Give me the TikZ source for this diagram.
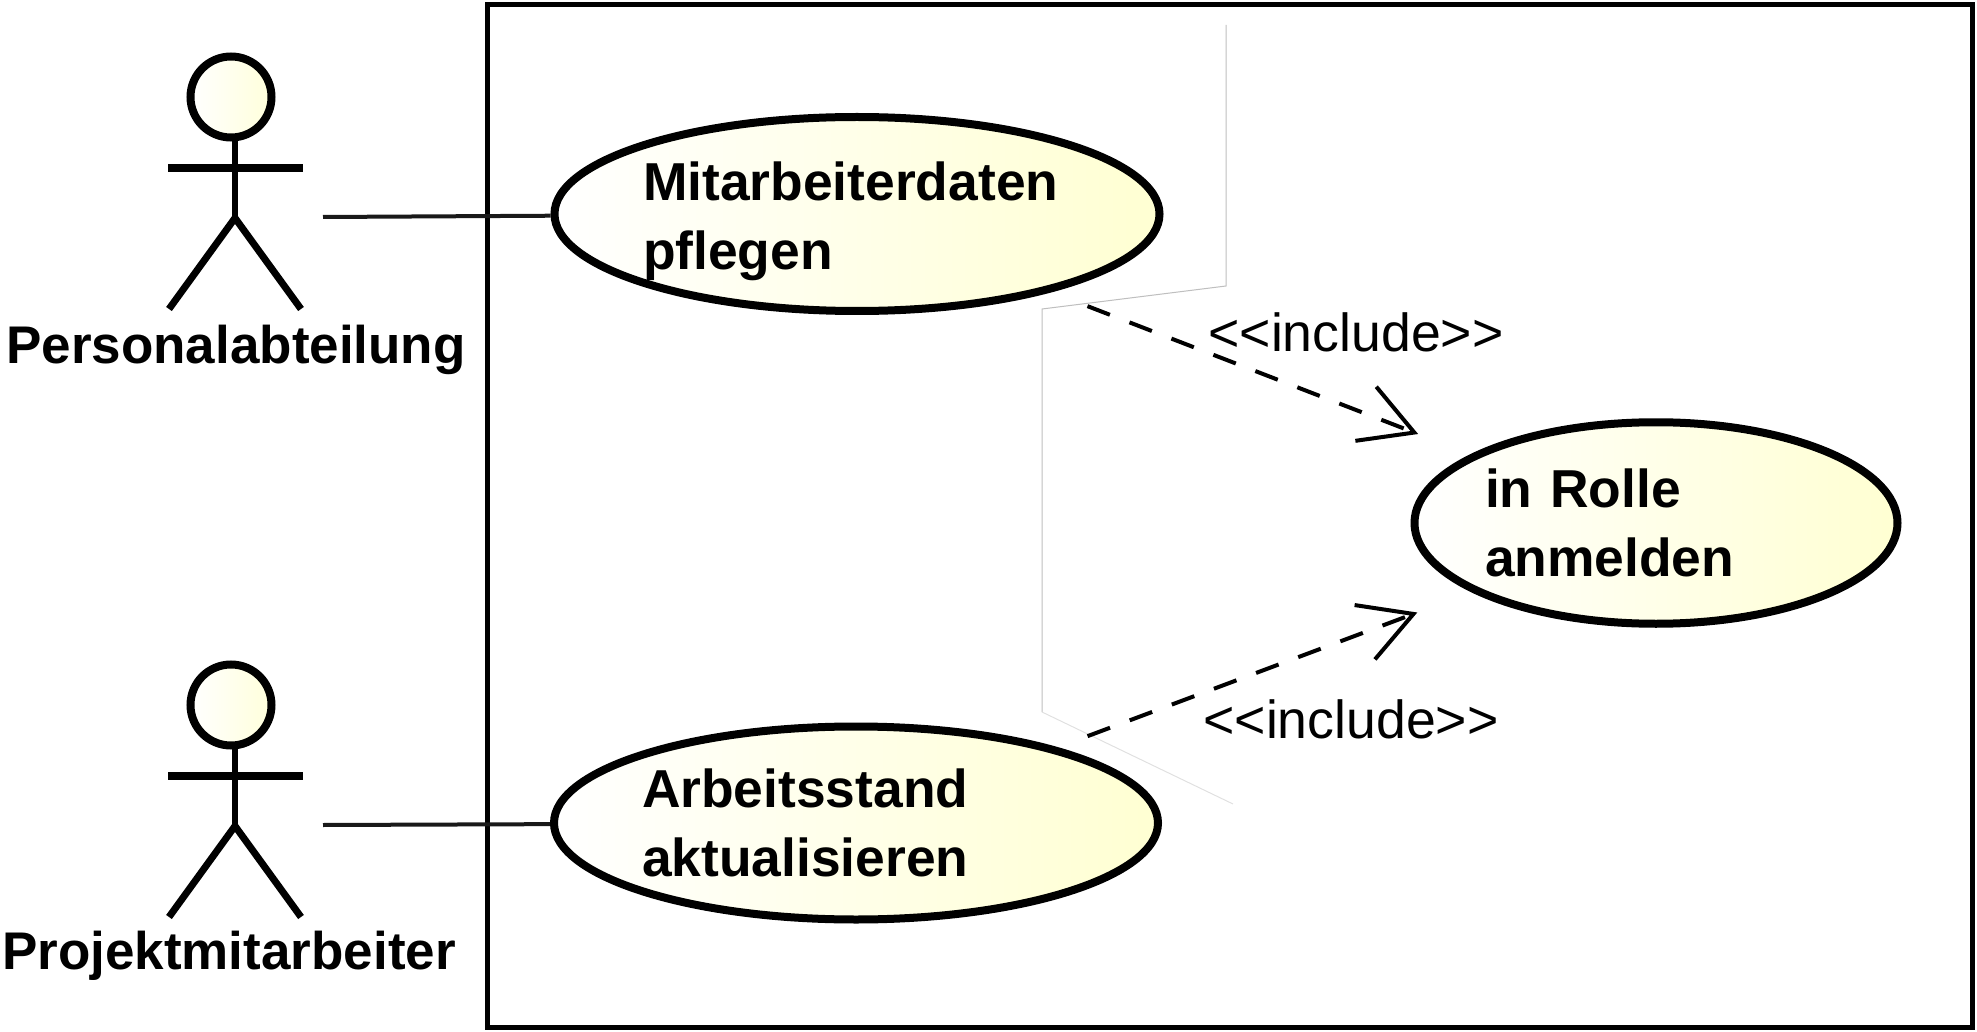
\documentclass[tikz,border=0pt]{standalone}
\usepackage{fontspec}
\setmainfont{Liberation Sans}
\usetikzlibrary{positioning, calc, arrows.meta, shapes.geometric}
\definecolor{paleyellow}{HTML}{FFFFD2}
\tikzset{
	usecase/.style={ellipse, draw, line width=4pt, left color=white, right color=paleyellow, inner sep=-2pt, align=left, font=\fontsize{26.7}{34.5}\selectfont\bfseries},
	actorhead/.style={circle, draw, line width=4pt, minimum size=40.5pt, left color=white, right color=paleyellow!80!white},
	actorname/.style={anchor=base, font=\fontsize{26.5}{30}\selectfont\bfseries},
	assocline/.style={line width=2pt, black!90},
	includeline/.style={line width=2pt, dash pattern=on 12pt off 10.5pt, -{Straight Barb[length=26pt, width=29pt]}},
	includename/.style={anchor=base, font=\fontsize{26.8}{30}\selectfont},
}
\begin{document}
\begin{tikzpicture}[x=0.5pt, y=-0.5pt]
\useasboundingbox (0, 0) rectangle (1977, 1032);
\node[draw, line width=2.5pt, minimum width=742.5pt, minimum height=511pt] (subject) at (1229.5, 516) {};
\coordinate (kink) at (1042, 712);
\draw[black!25, line width=0.5pt] (1226, 25) -- (1226, 286) -- (1042, 309) -- (kink);
\draw[black!12, line width=0.5pt] (kink) -- (1233, 804);
\foreach \v/\y/\lx/\ly/\lab in {pa/0/236/364/Personalabteilung, pm/608/229/361/Projektmitarbeiter} {
	\begin{scope}[shift={(0, \y)}]
		\coordinate (\v neck) at (235, 138);
		\coordinate (\v hip) at (235, 218);
		\coordinate (\v port) at (323, 217);
		\draw[line width=3pt] (\v neck) -- (\v hip);
		\draw[line width=3.5pt] (\v hip) -- +(-66, 91);
		\draw[line width=3.5pt] (\v hip) -- +(66, 91);
		\draw[line width=4pt] (168, 168) -- (303, 168);
		\node[actorhead] (\v head) at (231, 97) {};
		\node[actorname] (\v name) at (\lx, \ly) {\lab};
	\end{scope}
}
\node[usecase, text width=214pt, minimum width=302.5pt, minimum height=97pt] (uc1) at (857, 214) {\rule{0pt}{26.6pt}Mitarbeiterdaten\\pflegen};
\node[usecase, text width=214pt, minimum width=302pt, minimum height=96.5pt] (uc2) at (856, 823) {Arbeitsstand\\aktualisieren};
\node[usecase, text width=171pt, minimum width=241.5pt, minimum height=100.75pt] (uc3) at (1656, 523) {in Rolle\\anmelden};
\foreach \v/\uc in {pa/uc1, pm/uc2}
	\draw[assocline] (\v port) -- (\uc);
\draw[includeline, transform canvas={yshift=-1.5pt}, shorten <=17pt, shorten >=30pt] (uc1) -- (uc3);
\draw[includeline, shorten <=16pt, shorten >=29pt] (uc2) -- (uc3);
\node[includename] (inc1) at (1356, 352) {<{}<include>{}>};
\node[includename] (inc2) at (1351, 738) {<{}<include>{}>};
\end{tikzpicture}
\end{document}
